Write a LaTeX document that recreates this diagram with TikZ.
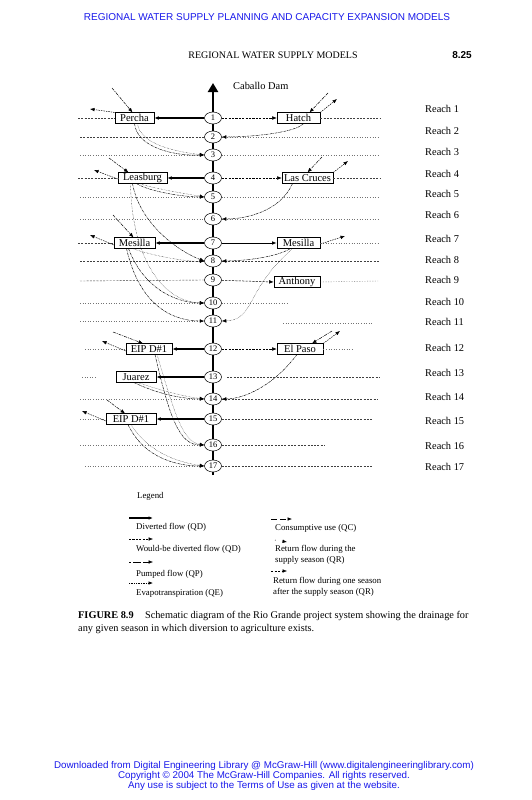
\documentclass[tikz,border=0pt]{standalone}
\usepackage{fontspec}
\setmainfont{Liberation Serif}
\newfontfamily\hsans{Liberation Sans}
\usetikzlibrary{arrows.meta,shapes.geometric}
\definecolor{hblue}{RGB}{25,25,235}
\begin{document}
\begin{tikzpicture}[x=1pt,y=-1pt,
  >={Latex[length=4.5pt,width=3.6pt]},
  rnode/.style={ellipse,draw,line width=0.5pt,fill=white,minimum width=17pt,minimum height=12pt,inner sep=0pt,font=\fontsize{8.5}{9}\selectfont},
  bx/.style={draw,line width=0.6pt,fill=white,minimum height=10.5pt,inner sep=0pt,font=\fontsize{10.5}{11}\selectfont},
  river/.style={line width=2.6pt},
  divflow/.style={line width=1.4pt,->},
  wbd/.style={line width=0.5pt,dash pattern=on 2.2pt off 1.2pt,->},
  rowdash/.style={line width=0.4pt,dash pattern=on 2pt off 1.3pt,black!75},
  rowdot/.style={line width=0.4pt,dash pattern=on 1pt off 1.6pt,black!55},
  retflow/.style={line width=0.45pt,dash pattern=on 2.5pt off 0.8pt on 0.6pt off 0.8pt,->},
  retflowb/.style={line width=0.4pt,densely dotted,->},
  pumpin/.style={line width=0.5pt,dash pattern=on 3pt off 1pt on 1pt off 1pt,->},
  outflow/.style={line width=0.5pt,dash pattern=on 1.5pt off 1pt,->},
  lbl/.style={font=\fontsize{10}{11}\selectfont,inner sep=0pt},
  rlbl/.style={font=\fontsize{10.4}{11}\selectfont,inner sep=0pt,anchor=west},
  leg/.style={font=\fontsize{8.8}{9}\selectfont,inner sep=0pt,anchor=west}
]
\useasboundingbox (0,0) rectangle (531,800);
\fill[white] (0,0) rectangle (531,800);

% header
\node[font=\hsans\fontsize{10}{11}\selectfont,text=hblue,inner sep=0pt] (hdr) at (267,17) {REGIONAL WATER SUPPLY PLANNING AND CAPACITY EXPANSION MODELS};
\node[lbl] (run) at (273,55) {REGIONAL WATER SUPPLY MODELS};
\node[font=\hsans\bfseries\fontsize{10}{11}\selectfont,inner sep=0pt] (pg) at (462,55) {8.25};

% river
\coordinate (rtop) at (213,83);
\coordinate (rbot) at (213,475);
\draw[river,-{Triangle[width=10pt,length=9pt]}] (rbot) -- (rtop);
\node[lbl,anchor=west,font=\fontsize{10.4}{11}\selectfont] (dam) at (233,86) {Caballo Dam};

% river nodes
\foreach \i/\y in {1/118,2/137,3/155,4/178,5/197,6/219,7/243,8/261,9/280,10/303,11/321,12/349,13/377,14/399,15/419,16/445,17/466}{
  \node[rnode] (n\i) at (213,\y) {\i};
}

% boxes
\node[bx,minimum width=39pt] (percha) at (134.5,118) {Percha};
\node[bx,minimum width=43pt] (hatch) at (298.5,118) {Hatch};
\node[bx,minimum width=49pt] (leasburg) at (142.5,178) {Leasburg};
\node[bx,minimum width=51pt] (lascruces) at (307.5,178) {Las Cruces};
\node[bx,minimum width=41pt] (mesillaL) at (134.5,243) {Mesilla};
\node[bx,minimum width=43pt] (mesillaR) at (298.5,243) {Mesilla};
\node[bx,minimum width=46pt] (anthony) at (297,282) {Anthony};
\node[bx,minimum width=46pt] (eip1) at (149,349) {EIP D\#1};
\node[bx,minimum width=46pt] (elpaso) at (300,349) {El Paso};
\node[bx,minimum width=40pt] (juarez) at (136,377) {Juarez};
\node[bx,minimum width=50pt] (eip2) at (131,419) {EIP D\#1};

% reach labels
\foreach \i/\y in {1/109,2/131,3/152,4/174,5/194,6/215,7/239,8/260,9/280,10/302,11/322,12/348,13/373,14/397,15/421,16/446,17/467}{
  \node[rlbl] (r\i) at (425,\y) {Reach \i};
}

% row end coordinates
\coordinate (L1) at (78,118);  \coordinate (R1) at (380,118);
\coordinate (L2) at (80,137);  \coordinate (R2) at (380,137);
\coordinate (L3) at (80,155);  \coordinate (R3) at (380,155);
\coordinate (L4) at (78,178);  \coordinate (R4) at (380,178);
\coordinate (L5) at (80,197);  \coordinate (R5) at (380,197);
\coordinate (L6) at (80,219);  \coordinate (R6) at (380,219);
\coordinate (L7) at (78,243);  \coordinate (R7) at (380,243);
\coordinate (L8) at (80,261);  \coordinate (R8) at (380,261);
\coordinate (L9) at (80,281);  \coordinate (R9) at (378,281);
\coordinate (L10) at (80,303); \coordinate (R10) at (287,303);
\coordinate (L11) at (80,321); \coordinate (R11a) at (283,323); \coordinate (R11b) at (373,323);
\coordinate (L12) at (85,349); \coordinate (R12) at (352,349);
\coordinate (L13a) at (82,377); \coordinate (L13b) at (97,377); \coordinate (R13a) at (227,377); \coordinate (R13b) at (380,377);
\coordinate (L14) at (80,399); \coordinate (R14) at (377,399);
\coordinate (L15) at (80,419); \coordinate (R15) at (373,419);
\coordinate (L16) at (80,445); \coordinate (R16) at (325,445);
\coordinate (L17) at (85,466); \coordinate (R17) at (373,466);

% row lines
\draw[rowdash] (L1) -- (percha.west);
\draw[rowdash] (hatch.east) -- (R1);
\draw[rowdash] (L2) -- (n2.west);  \draw[rowdot] (n2.east) -- (R2);
\draw[rowdot] (L3) -- (n3.west);  \draw[rowdot] (n3.east) -- (R3);
\draw[rowdash] (L4) -- (leasburg.west);
\draw[rowdash] (lascruces.east) -- (R4);
\draw[rowdot] (L5) -- (n5.west);  \draw[rowdot] (n5.east) -- (R5);
\draw[rowdot] (L6) -- (n6.west);  \draw[rowdot] (n6.east) -- (R6);
\draw[rowdash] (L7) -- (mesillaL.west);
\draw[rowdot] (mesillaR.east) -- (R7);
\draw[rowdash] (L8) -- (n8.west); \draw[rowdash] (n8.east) -- (R8);
\draw[rowdash] (L9) -- (n9.west);
\draw[rowdot] (anthony.east) -- (R9);
\draw[rowdot] (L10) -- (n10.west); \draw[rowdot] (n10.east) -- (R10);
\draw[rowdot] (L11) -- (n11.west); \draw[rowdot] (R11a) -- (R11b);
\draw[rowdot] (L12) -- (eip1.west);
\draw[rowdot] (elpaso.east) -- (R12);
\draw[rowdot] (L13a) -- (L13b);
\draw[rowdash] (R13a) -- (R13b);
\draw[rowdot] (L14) -- (n14.west); \draw[rowdash] (n14.east) -- (R14);
\draw[rowdot] (L15) -- (eip2.west);
\draw[rowdash] (n15.east) -- (R15);
\draw[rowdot] (L16) -- (n16.west); \draw[rowdash] (n16.east) -- (R16);
\draw[rowdot] (L17) -- (n17.west); \draw[rowdash] (n17.east) -- (R17);

% diversions
\draw[divflow] (n1) -- (percha.east);
\draw[divflow] (n4) -- (leasburg.east);
\draw[divflow] (n7) -- (mesillaL.east);
\draw[divflow] (n12) -- (eip1.east);
\draw[divflow] (n13) -- (juarez.east);
\draw[divflow] (n15) -- (eip2.east);
\draw[wbd] (n1) -- (hatch.west);
\draw[wbd] (n4) -- (lascruces.west);
\draw[line width=0.8pt,->] (n7) -- (mesillaR.west);
\draw[wbd] (n9) -- (anthony.west);
\draw[wbd] (n12) -- (elpaso.west);

% pumped inflows and outflows
\coordinate (pin1) at (112,88);   \coordinate (pout1) at (90,109);
\coordinate (pin2) at (328,93);   \coordinate (pout2) at (337,99);
\coordinate (pin3) at (109,158);  \coordinate (pout3) at (94,170);
\coordinate (pin4) at (322,157);  \coordinate (pout4) at (348,161);
\coordinate (pin5) at (113,215);  \coordinate (pout5) at (90,235);
\coordinate (pout6) at (345,236);
\coordinate (pin7) at (113,332);  \coordinate (pout7) at (102,341);
\coordinate (pin8) at (332,331);  \coordinate (pout8) at (340,331);
\coordinate (pin9) at (107,400);  \coordinate (pout9) at (82,411);

\draw[pumpin] (pin1) -- ([xshift=-2pt]percha.north);
\draw[outflow] (percha.north west) -- (pout1);
\draw[pumpin] (pin2) -- ([xshift=11pt]hatch.north);
\draw[outflow] (hatch.north east) -- (pout2);
\draw[pumpin] (pin3) -- ([xshift=-14pt]leasburg.north);
\draw[outflow] ([yshift=-1pt]leasburg.west) -- (pout3);
\draw[pumpin] (pin4) -- (lascruces.north);
\draw[outflow] (lascruces.north east) -- (pout4);
\draw[pumpin] (pin5) -- ([xshift=-1pt]mesillaL.north);
\draw[outflow] ([yshift=-2pt]mesillaL.west) -- (pout5);
\draw[outflow] ([yshift=-1pt]mesillaR.east) -- (pout6);
\draw[pumpin] (pin7) -- ([xshift=-6pt]eip1.north);
\draw[outflow] ([yshift=-2pt]eip1.west) -- (pout7);
\draw[pumpin] (pin8) -- ([xshift=12pt]elpaso.north);
\draw[outflow] (elpaso.north east) -- (pout8);
\draw[pumpin] (pin9) -- ([xshift=-6pt]eip2.north);
\draw[outflow] ([yshift=-2pt]eip2.west) -- (pout9);

% return flows
\draw[retflow] ([xshift=0pt]percha.south) .. controls (137,148) and (175,156) .. (n3.west);
\draw[retflowb] ([xshift=3pt]percha.south) .. controls (140,145) and (178,152) .. (n3.west);
\draw[retflow] ([xshift=5pt]hatch.south) .. controls (295,133) and (250,137) .. (n2.east);
\draw[retflow] ([xshift=-6pt]leasburg.south) .. controls (150,192) and (185,197) .. (n5.west);
\draw[retflowb] ([xshift=-3pt]leasburg.south) .. controls (155,189) and (188,194) .. (n5.west);
\draw[retflow] ([xshift=-10pt]leasburg.south) .. controls (140,225) and (180,252) .. (n8.west);
\draw[retflowb] ([xshift=-12pt]leasburg.south) .. controls (132,262) and (165,302) .. (n10.west);
\draw[retflowb] ([xshift=-2pt]mesillaL.south) .. controls (150,255) and (185,262) .. (n8.west);
\draw[retflow] ([xshift=-6pt]mesillaL.south) .. controls (145,292) and (180,303) .. (n10.west);
\draw[retflow] ([xshift=-8pt]mesillaL.south) .. controls (140,308) and (175,321) .. (n11.west);
\draw[retflow] ([xshift=-15pt]lascruces.south) .. controls (280,212) and (245,219) .. (n6.east);
\draw[retflow] ([xshift=-8pt]mesillaR.south) .. controls (275,258) and (240,261) .. (n8.east);
\draw[retflowb] ([xshift=-6pt]mesillaR.south) .. controls (245,290) and (255,320) .. (n11.east);
\draw[retflow] ([xshift=6pt]eip1.south) .. controls (170,420) and (180,445) .. (n16.west);
\draw[retflowb] ([xshift=8pt]eip1.south) .. controls (175,415) and (183,442) .. (n16.west);
\draw[retflow] ([xshift=-2pt]juarez.south) .. controls (160,395) and (185,399) .. (n14.west);
\draw[retflowb] ([xshift=2pt]juarez.south) .. controls (165,392) and (188,397) .. (n14.west);
\draw[retflow] ([xshift=-3pt]elpaso.south) .. controls (270,390) and (240,399) .. (n14.east);
\draw[retflow] ([xshift=-3pt]eip2.south) .. controls (145,460) and (180,466) .. (n17.west);
\draw[retflowb] ([xshift=0pt]eip2.south) .. controls (150,455) and (183,463) .. (n17.west);

% legend
\node[leg] (lgt) at (137,496) {Legend};
\coordinate (la1) at (129,518); \coordinate (lb1) at (153,518);
\coordinate (la2) at (129,539); \coordinate (lb2) at (153,539);
\coordinate (la3) at (129,562); \coordinate (lb3) at (153,562);
\coordinate (la4) at (129,583); \coordinate (lb4) at (153,583);
\coordinate (ra1) at (271,519); \coordinate (rb1) at (292,519);
\coordinate (ra2) at (275,540); \coordinate (rb2) at (287,542);
\coordinate (ra3) at (271,571); \coordinate (rb3) at (287,571);
\draw[line width=1.1pt,->] (la1) -- (lb1);
\draw[wbd] (la2) -- (lb2);
\draw[line width=0.5pt,dash pattern=on 2pt off 2pt on 6pt off 0pt,->] (la3) -- (lb3);
\draw[line width=0.7pt,densely dotted,->] (la4) -- (lb4);
\draw[line width=0.6pt,dash pattern=on 6pt off 3pt,->] (ra1) -- (rb1);
\draw[line width=0.5pt,dash pattern=on 0.8pt off 8pt,->] (ra2) -- (rb2);
\draw[line width=0.5pt,dash pattern=on 2pt off 1.5pt,->] (ra3) -- (rb3);
\node[leg] (lg1) at (136,527) {Diverted flow (QD)};
\node[leg] (lg2) at (136,549) {Would-be diverted flow (QD)};
\node[leg] (lg3) at (136,574) {Pumped flow (QP)};
\node[leg] (lg4) at (136,593) {Evapotranspiration (QE)};
\node[leg] (lg5) at (275,528) {Consumptive use (QC)};
\node[leg] (lg6) at (275,549) {Return flow during the};
\node[leg] (lg7) at (275,560) {supply season (QR)};
\node[leg] (lg8) at (273,581) {Return flow during one season};
\node[leg] (lg9) at (273,592) {after the supply season (QR)};

% caption
\node[font=\fontsize{10.3}{11}\selectfont,inner sep=0pt,anchor=west] (cap1) at (78,616) {\textbf{FIGURE 8.9}\hspace{1.1em}Schematic diagram of the Rio Grande project system showing the drainage for};
\node[font=\fontsize{10.3}{11}\selectfont,inner sep=0pt,anchor=west] (cap2) at (78,629) {any given season in which diversion to agriculture exists.};

% footer
\node[font=\hsans\fontsize{9.8}{10}\selectfont,text=hblue,inner sep=0pt] (f1) at (264,766) {Downloaded from Digital Engineering Library @ McGraw-Hill (www.digitalengineeringlibrary.com)};
\node[font=\hsans\fontsize{9.8}{10}\selectfont,text=hblue,inner sep=0pt] (f2) at (264,776) {Copyright © 2004 The McGraw-Hill Companies. All rights reserved.};
\node[font=\hsans\fontsize{9.8}{10}\selectfont,text=hblue,inner sep=0pt] (f3) at (264,786) {Any use is subject to the Terms of Use as given at the website.};
\end{tikzpicture}
\end{document}
